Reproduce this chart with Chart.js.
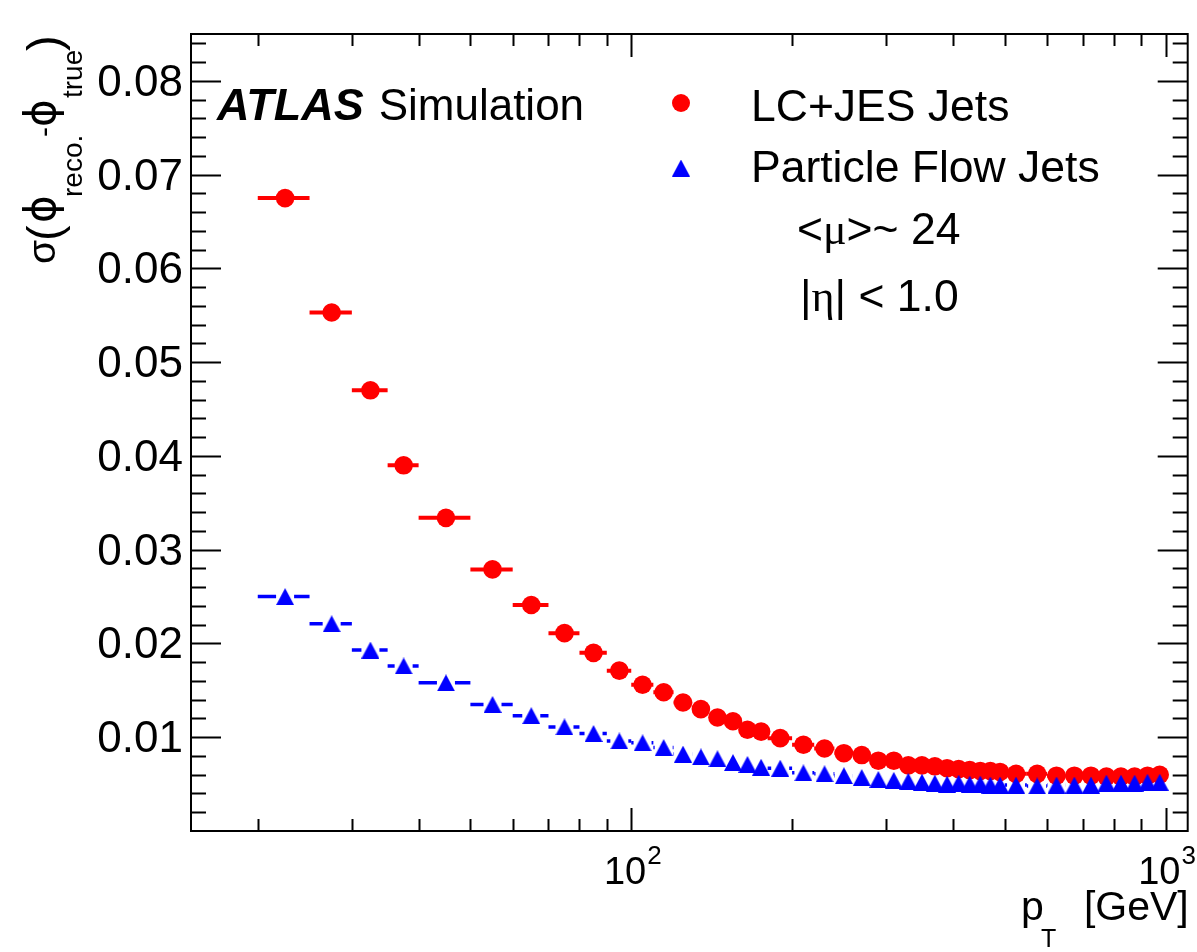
<!DOCTYPE html>
<html>
<head>
<meta charset="utf-8">
<script src="https://cdn.jsdelivr.net/npm/chart.js@4.4.0/dist/chart.umd.min.js"></script>
<style>
  html, body { margin: 0; padding: 0; background: #fff; }
  #wrap { width: 1197px; height: 952px; }
</style>
</head>
<body>
<div id="wrap"><canvas id="reso" width="1197" height="952"></canvas></div>
<script>
/* phi resolution vs pT, LC+JES vs particle flow jets */

// pT bin edges [GeV]
const ptEdges = [20, 25, 30, 35, 40, 50, 60, 70, 80, 90, 100, 110, 120, 130, 140, 150, 160, 170, 180,
  200, 220, 240, 260, 280, 300, 320, 340, 360, 380, 400, 420, 440, 460, 480, 500,
  550, 600, 650, 700, 750, 800, 850, 900, 950, 1000];

const lcjesSigma = [0.0675, 0.0553, 0.0470, 0.0390, 0.0334, 0.0279, 0.0241, 0.0211, 0.0190, 0.0171,
  0.0156, 0.0148, 0.0137, 0.0130, 0.0121, 0.0117, 0.0108, 0.0106, 0.0099, 0.0092,
  0.0088, 0.0083, 0.0081, 0.0075, 0.0075, 0.0070, 0.0070, 0.0069, 0.0067, 0.0066,
  0.0065, 0.0064, 0.0064, 0.0063, 0.0061, 0.0061, 0.0059, 0.0059, 0.0059, 0.0058,
  0.0058, 0.0058, 0.0059, 0.0060];

const pflowSigma = [0.0250, 0.0221, 0.0193, 0.0176, 0.0158, 0.0135, 0.0123, 0.0111, 0.0104, 0.0096,
  0.0094, 0.0089, 0.0082, 0.0079, 0.0077, 0.0073, 0.0071, 0.0068, 0.0067, 0.0062,
  0.0061, 0.0059, 0.0057, 0.0055, 0.0054, 0.0053, 0.0052, 0.0051, 0.0050, 0.0051,
  0.0050, 0.0050, 0.0049, 0.0049, 0.0049, 0.0048, 0.0049, 0.0049, 0.0049, 0.0051,
  0.0051, 0.0051, 0.0052, 0.0052];

const yTicks = [0.01, 0.02, 0.03, 0.04, 0.05, 0.06, 0.07, 0.08];
const yTickLabels = ['0.01', '0.02', '0.03', '0.04', '0.05', '0.06', '0.07', '0.08'];
const xTicks = [100, 1000];
const xTickLabels = [['10', '2'], ['10', '3']];
const xMinorTicks = [20, 30, 40, 50, 60, 70, 80, 90, 200, 300, 400, 500, 600, 700, 800, 900];

const SANS = "'Liberation Sans', Arial, Helvetica, sans-serif";
const SERIF = "'Liberation Serif', 'Times New Roman', serif";
const RED = '#ff0000';
const BLUE = '#0000ff';

function binCentre(i) {
  return (ptEdges[i] + ptEdges[i + 1]) / 2;
}

function toPoints(vals) {
  return vals.map((v, i) => ({ x: binCentre(i), y: v }));
}

// ROOT-like filled triangle marker (box centred on the point)
function makeTriangle(w, h, color) {
  const c = document.createElement('canvas');
  c.width = w; c.height = h;
  const g = c.getContext('2d');
  g.fillStyle = color;
  g.beginPath();
  g.moveTo(w / 2, 0); g.lineTo(w, h); g.lineTo(0, h); g.closePath();
  g.fill();
  return c;
}
const triMarker = makeTriangle(18, 17, BLUE);

// horizontal bin-width bars, drawn just before each dataset's markers
const binBars = {
  id: 'binBars',
  beforeDatasetDraw(chart, args) {
    const ds = chart.data.datasets[args.index];
    const { ctx, scales: { x, y } } = chart;
    ctx.save();
    ctx.strokeStyle = ds.barColor;
    ctx.lineWidth = ds.barWidth;
    ctx.lineCap = 'butt';
    ds.data.forEach((p, i) => {
      const px = x.getPixelForValue(p.x);
      const py = y.getPixelForValue(p.y);
      const lo = x.getPixelForValue(ptEdges[i]);
      const hi = x.getPixelForValue(ptEdges[i + 1]);
      const g = ds.barGap;
      ctx.beginPath();
      if (px - g > lo) { ctx.moveTo(lo, py); ctx.lineTo(px - g, py); }
      if (px + g < hi) { ctx.moveTo(px + g, py); ctx.lineTo(hi, py); }
      ctx.stroke();
    });
    ctx.restore();
  }
};

function txt(ctx, s, x, y, font, align) {
  ctx.font = font;
  ctx.textAlign = align || 'left';
  ctx.fillText(s, x, y);
  return ctx.measureText(s).width;
}

// ROOT style frame, inward ticks, labels and annotations
const rootFrame = {
  id: 'rootFrame',
  afterDraw(chart) {
    const { ctx, chartArea: a, scales: { x, y } } = chart;
    ctx.save();
    ctx.strokeStyle = '#000';
    ctx.fillStyle = '#000';
    ctx.lineWidth = 2;
    ctx.strokeRect(a.left, a.top, a.right - a.left, a.bottom - a.top);

    ctx.beginPath();
    // y ticks, major and minor, both sides
    for (let k = 1; k < 43; k++) {
      const v = k * 0.002;
      const py = Math.round(y.getPixelForValue(v)) + 0.5;
      const len = (k % 5 === 0) ? 30 : 15;
      ctx.moveTo(a.left, py); ctx.lineTo(a.left + len, py);
      ctx.moveTo(a.right, py); ctx.lineTo(a.right - len, py);
    }
    // x ticks, log axis
    xMinorTicks.forEach(v => {
      const px = Math.round(x.getPixelForValue(v)) + 0.5;
      ctx.moveTo(px, a.bottom); ctx.lineTo(px, a.bottom - 12);
      ctx.moveTo(px, a.top); ctx.lineTo(px, a.top + 12);
    });
    xTicks.forEach(v => {
      const px = Math.round(x.getPixelForValue(v)) + 0.5;
      ctx.moveTo(px, a.bottom); ctx.lineTo(px, a.bottom - 23);
      ctx.moveTo(px, a.top); ctx.lineTo(px, a.top + 23);
    });
    ctx.stroke();

    // y tick labels
    ctx.textBaseline = 'alphabetic';
    yTicks.forEach((v, i) => {
      txt(ctx, yTickLabels[i], a.left - 8, y.getPixelForValue(v) + 15, '44px ' + SANS, 'right');
    });

    // x tick labels 10^n
    xTicks.forEach((v, i) => {
      const px = x.getPixelForValue(v);
      const [base, sup] = xTickLabels[i];
      ctx.font = '38px ' + SANS;
      const wb = ctx.measureText(base).width;
      ctx.font = '26px ' + SANS;
      const ws = ctx.measureText(sup).width;
      const x0 = px - (wb + ws) / 2 + 1;
      txt(ctx, base, x0, 884, '38px ' + SANS);
      txt(ctx, sup, x0 + wb + 1, 864, '26px ' + SANS);
    });

    // x title
    txt(ctx, '[GeV]', a.right + 1, 920, '41px ' + SANS, 'right');
    txt(ctx, 'p', 1021, 920, '41px ' + SANS);
    txt(ctx, 'T', 1041, 947, '25px ' + SANS);

    // y title (rotated)
    ctx.save();
    ctx.translate(55, 264);
    ctx.rotate(-Math.PI / 2);
    txt(ctx, 'σ', 0, 0, '39px ' + SANS);
    txt(ctx, '(', 23, 5, '47px ' + SANS);
    txt(ctx, 'ϕ', 41, 0, "42px 'DejaVu Sans', sans-serif");
    txt(ctx, 'reco.', 67, 27, '28px ' + SANS);
    txt(ctx, '-', 127, -1, '30px ' + SANS);
    txt(ctx, 'ϕ', 137, 0, "42px 'DejaVu Sans', sans-serif");
    txt(ctx, 'true', 166, 27, '28px ' + SANS);
    txt(ctx, ')', 213, 5, '47px ' + SANS);
    ctx.restore();

    // ATLAS label
    const wA = txt(ctx, 'ATLAS', 217, 120, 'italic bold 45px ' + SANS);
    txt(ctx, 'Simulation', 217 + wA + 15, 120, '44px ' + SANS);

    // legend
    const lf = '44.5px ' + SANS;
    ctx.fillStyle = RED;
    ctx.beginPath(); ctx.arc(681, 103, 9, 0, Math.PI * 2); ctx.fill();
    ctx.drawImage(triMarker, 681 - 9, 168 - 8.5, 18, 17);
    ctx.fillStyle = '#000';
    txt(ctx, 'LC+JES Jets', 751, 121, lf);
    txt(ctx, 'Particle Flow Jets', 751, 182, lf);

    let cx = 797;
    cx += txt(ctx, '<', cx, 244, lf);
    cx += txt(ctx, 'μ', cx, 244, '44px ' + SERIF);
    txt(ctx, '>~ 24', cx, 244, lf);

    cx = 800;
    cx += txt(ctx, '|', cx, 311, lf);
    cx += txt(ctx, 'η', cx, 311, '44px ' + SERIF);
    txt(ctx, '| < 1.0', cx, 311, lf);

    ctx.restore();
  }
};

new Chart(document.getElementById('reso'), {
  type: 'scatter',
  data: {
    datasets: [
      {
        label: 'LC+JES Jets',
        data: toPoints(lcjesSigma),
        backgroundColor: RED,
        borderWidth: 0,
        pointStyle: 'circle',
        pointRadius: 9.3,
        barColor: RED,
        barWidth: 4,
        barGap: 0,
        order: 2
      },
      {
        label: 'Particle Flow Jets',
        data: toPoints(pflowSigma),
        backgroundColor: BLUE,
        borderWidth: 0,
        pointStyle: triMarker,
        pointRadius: 9,
        barColor: BLUE,
        barWidth: 3.5,
        barGap: 9,
        order: 1
      }
    ]
  },
  options: {
    responsive: false,
    animation: false,
    devicePixelRatio: 1,
    layout: { padding: { left: 191, right: 5, top: 34, bottom: 121 } },
    plugins: {
      legend: { display: false },
      tooltip: { enabled: false }
    },
    scales: {
      x: { type: 'logarithmic', min: 15, max: 1100, display: false },
      y: { type: 'linear', min: 0, max: 0.085, display: false }
    }
  },
  plugins: [binBars, rootFrame]
});
</script>
</body>
</html>
